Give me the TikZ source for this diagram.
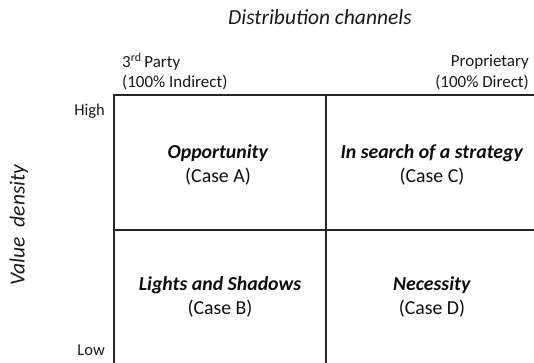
\documentclass[tikz,border=0pt]{standalone}
\usepackage{fontspec}
\setmainfont{Carlito}
\begin{document}
\begin{tikzpicture}[x=1pt,y=-1pt,
  grid/.style={line width=1.7pt,draw=black!85},
  axis/.style={font=\fontsize{21.5}{24}\selectfont\itshape,inner sep=0pt,text=black!90},
  endlabel/.style={font=\fontsize{17}{20}\selectfont,inner sep=0pt,align=left,text=black!90},
  levellabel/.style={font=\fontsize{16.5}{19}\selectfont,inner sep=0pt,anchor=east,text=black!90},
  quad/.style={font=\fontsize{19.8}{24.5}\selectfont,align=center,inner sep=0pt,text=black!95}]
\useasboundingbox (0,0) rectangle (534,363);
% axis titles
\node[axis] (xt) at (320,17) {Distribution channels};
\node[axis,rotate=90] (yt) at (19,225) {Value\ \ density};
% channel ends
\node[endlabel,anchor=west] (third) at (122,62) {3\textsuperscript{rd}\,Party};
\node[endlabel,anchor=west] (indir) at (122,82) {(100\% Indirect)};
\node[endlabel,anchor=east] (prop) at (529,62) {Proprietary};
\node[endlabel,anchor=east] (dir) at (529,82) {(100\% Direct)};
% value levels
\node[levellabel] (high) at (105,111) {High};
\node[levellabel] (low) at (105,350) {Low};
% the matrix
\coordinate (tl) at (114,95);
\coordinate (tr) at (534,95);
\coordinate (bl) at (114,363);
\coordinate (tm) at (326,95);
\coordinate (bm) at (326,363);
\coordinate (ml) at (114,230);
\coordinate (mr) at (534,230);
\draw[grid] (tr) -- (tl) -- (bl);
\draw[grid] (tm) -- (bm);
\draw[grid] (ml) -- (mr);
% quadrants
\node[quad] (qa) at (218,165) {\textbf{\textit{Opportunity}}\\(Case A)};
\node[quad] (qc) at (432,165) {\textbf{\textit{In search of a strategy}}\\(Case C)};
\node[quad] (qb) at (220,297) {\textbf{\textit{Lights and Shadows}}\\(Case B)};
\node[quad] (qd) at (432,297) {\textbf{\textit{Necessity}}\\(Case D)};
\end{tikzpicture}
\end{document}
